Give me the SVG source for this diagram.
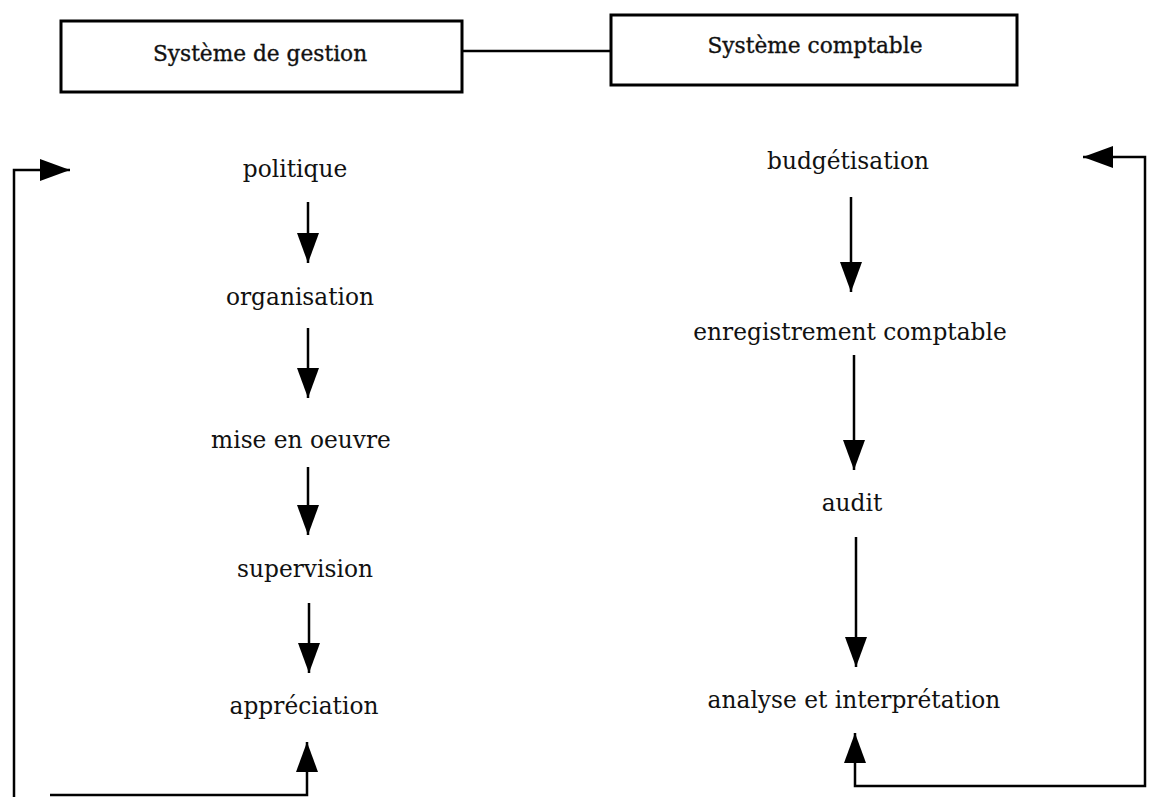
<svg xmlns="http://www.w3.org/2000/svg" width="1154" height="797" viewBox="0 0 1154 797">
<style>
.box{fill:#fff;stroke:#000;stroke-width:3}
.lbl{font-family:"DejaVu Serif","Liberation Serif",serif;font-size:23.3px;fill:#111;text-anchor:middle}
.hd{font-family:"DejaVu Serif","Liberation Serif",serif;font-size:21.7px;fill:#111;stroke:#111;stroke-width:0.35;text-anchor:middle}
.ln{fill:none;stroke:#000;stroke-width:2.5}
</style>
<defs>
<marker id="ah" viewBox="0 0 30 22" refX="30" refY="11" markerWidth="30" markerHeight="22" markerUnits="userSpaceOnUse" orient="auto-start-reverse">
<path d="M0,0 L30,11 L0,22 z" fill="#000"/>
</marker>
</defs>
<rect width="1154" height="797" fill="#fff"/>
<g id="connectors">
<line class="ln" x1="462" y1="51" x2="611" y2="51"/>
<line class="ln" x1="308" y1="202" x2="308" y2="263" marker-end="url(#ah)"/>
<line class="ln" x1="308" y1="328" x2="308" y2="398" marker-end="url(#ah)"/>
<line class="ln" x1="308" y1="467" x2="308" y2="535" marker-end="url(#ah)"/>
<line class="ln" x1="309" y1="603" x2="309" y2="673" marker-end="url(#ah)"/>
<path class="ln" d="M50,795 H307 V742" marker-end="url(#ah)"/>
<path class="ln" d="M14,797 V170 H70" marker-end="url(#ah)"/>
<line class="ln" x1="851" y1="197" x2="851" y2="292" marker-end="url(#ah)"/>
<line class="ln" x1="854" y1="355" x2="854" y2="470" marker-end="url(#ah)"/>
<line class="ln" x1="856" y1="537" x2="856" y2="667" marker-end="url(#ah)"/>
<path class="ln" d="M1083,157 H1145 V786 H855 V733" marker-start="url(#ah)" marker-end="url(#ah)"/>
</g>
<g id="gestion"><rect class="box" x="61" y="21" width="401" height="71"/><text class="hd" x="260" y="61">Système de gestion</text></g>
<g id="comptable"><rect class="box" x="611" y="15" width="406" height="70"/><text class="hd" x="815" y="53">Système comptable</text></g>
<g id="politique"><text class="lbl" x="295" y="177">politique</text></g>
<g id="organisation"><text class="lbl" x="300" y="305">organisation</text></g>
<g id="mise"><text class="lbl" x="301" y="448">mise en oeuvre</text></g>
<g id="supervision"><text class="lbl" x="305" y="577">supervision</text></g>
<g id="appreciation"><text class="lbl" x="304" y="714">appréciation</text></g>
<g id="budgetisation"><text class="lbl" x="848" y="169">budgétisation</text></g>
<g id="enregistrement"><text class="lbl" x="850" y="340">enregistrement comptable</text></g>
<g id="audit"><text class="lbl" x="852" y="511">audit</text></g>
<g id="analyse"><text class="lbl" x="854" y="708">analyse et interprétation</text></g>
</svg>
